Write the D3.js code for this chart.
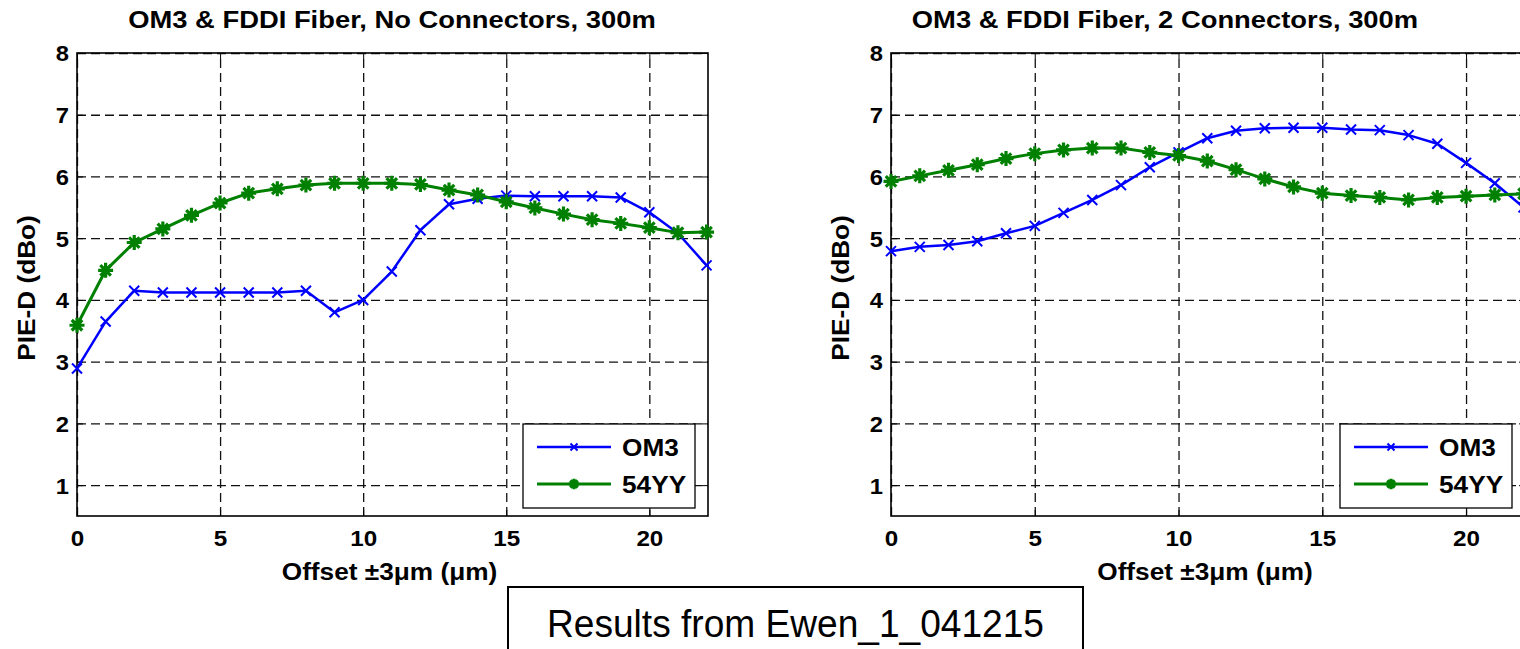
<!DOCTYPE html>
<html>
<head>
<meta charset="utf-8">
<script src="https://cdn.jsdelivr.net/npm/d3@7"></script>
<style>
    body { margin: 0; background: #fff; }
    svg { display: block; font-family: "Liberation Sans", Arial, sans-serif; }
    .grid line { stroke: #111; stroke-width: 1.3; stroke-dasharray: 9,5; }
    .grid path { display: none; }
    .ticks path { display: none; }
    .ticks line { stroke: #000; stroke-width: 1; }
    .tick text { font-weight: bold; fill: #000; }
</style>
</head>
<body>
<div class="chart-container"></div>
<script>
// Data
const offsets = [0, 1, 2, 3, 4, 5, 6, 7, 8, 9, 10, 11, 12, 13, 14, 15, 16, 17, 18, 19, 20, 21, 22];

const om3NoConn = [2.89, 3.65, 4.15, 4.12, 4.12, 4.12, 4.12, 4.12, 4.15, 3.80, 4.00, 4.46, 5.13,
    5.55, 5.64, 5.69, 5.68, 5.68, 5.68, 5.66, 5.42, 5.08, 4.56];
const yy54NoConn = [3.59, 4.48, 4.93, 5.15, 5.37, 5.57, 5.73, 5.80, 5.86, 5.89, 5.89, 5.89, 5.87,
    5.78, 5.70, 5.59, 5.49, 5.39, 5.30, 5.24, 5.17, 5.09, 5.10];

const om3TwoConn = [4.79, 4.86, 4.89, 4.95, 5.08, 5.20, 5.41, 5.62, 5.86, 6.15, 6.39, 6.62, 6.74,
    6.78, 6.79, 6.79, 6.76, 6.75, 6.67, 6.53, 6.22, 5.89, 5.50];
const yy54TwoConn = [5.92, 6.01, 6.10, 6.19, 6.29, 6.37, 6.43, 6.46, 6.46, 6.39, 6.34, 6.25, 6.11,
    5.96, 5.83, 5.73, 5.69, 5.66, 5.62, 5.66, 5.68, 5.70, 5.72];

const seriesNames = ['OM3', '54YY'];
const xTicks = [0, 5, 10, 15, 20];
const yTicks = [1, 2, 3, 4, 5, 6, 7, 8];
const xDomain = [0, 22.05];
const yDomain = [0.5, 8];

const titles = ['OM3 & FDDI Fiber, No Connectors, 300m', 'OM3 & FDDI Fiber, 2 Connectors, 300m'];
const xLabel = 'Offset \u00b13\u03bcm (\u03bcm)';
const yLabel = 'PIE-D (dBo)';
const caption = 'Results from Ewen_1_041215';

// Text in the picture is a bit wider than Liberation Sans
const STRETCH = 1.14;

function stretch(sel, k) {
    sel.each(function() {
        const len = this.getComputedTextLength();
        d3.select(this)
            .attr('textLength', len * k)
            .attr('lengthAdjust', 'spacingAndGlyphs');
    });
}

// Markers
function drawX(g, x, y, r, color, w) {
    g.append('path')
        .attr('d', `M${x - r},${y - r}L${x + r},${y + r}M${x - r},${y + r}L${x + r},${y - r}`)
        .attr('stroke', color)
        .attr('stroke-width', w);
}

function drawStar(g, x, y, r, color, w) {
    const d = r * 0.7;
    g.append('path')
        .attr('d', `M${x - r},${y}L${x + r},${y}M${x},${y - r}L${x},${y + r}` +
            `M${x - d},${y - d}L${x + d},${y + d}M${x - d},${y + d}L${x + d},${y - d}`)
        .attr('stroke', color)
        .attr('stroke-width', w);
}

const styles = [
    {color: '#0000ff', width: 2.5, marker: drawX, r: 5, mw: 2},
    {color: '#008000', width: 3, marker: drawStar, r: 7.5, mw: 3.2}
];

function drawPanel(svg, cfg) {
    const top = 53, bottom = 516;

    const xScale = d3.scaleLinear()
        .domain(xDomain)
        .range([cfg.left, cfg.right]);

    const yScale = d3.scaleLinear()
        .domain(yDomain)
        .range([bottom, top]);

    const width = cfg.right - cfg.left;
    const height = bottom - top;

    const g = svg.append('g');

    // Grid
    g.append('g')
        .attr('class', 'grid')
        .attr('transform', `translate(${cfg.left},0)`)
        .call(d3.axisLeft(yScale).tickValues(yTicks).tickSize(-width).tickFormat(''));

    g.append('g')
        .attr('class', 'grid')
        .attr('transform', `translate(0,${bottom})`)
        .call(d3.axisBottom(xScale).tickValues(xTicks).tickFormat('').tickSizeInner(-height));

    // Tick labels
    const yAxis = g.append('g')
        .attr('class', 'ticks')
        .attr('transform', `translate(${cfg.left},0)`)
        .call(d3.axisLeft(yScale).tickValues(yTicks).tickSizeInner(-6).tickSizeOuter(0).tickPadding(8));
    yAxis.selectAll('text').style('font-size', '22px').attr('dy', '0.36em');
    stretch(yAxis.selectAll('text'), 1.08);

    const xAxis = g.append('g')
        .attr('class', 'ticks')
        .attr('transform', `translate(0,${bottom})`)
        .call(d3.axisBottom(xScale).tickValues(xTicks).tickSizeInner(-6).tickSizeOuter(0).tickPadding(14));
    xAxis.selectAll('text').style('font-size', '22px');
    stretch(xAxis.selectAll('text'), 1.1);

    // Inner ticks on top and right
    g.append('g')
        .attr('class', 'ticks')
        .attr('transform', `translate(0,${top})`)
        .call(d3.axisTop(xScale).tickValues(xTicks).tickSizeInner(-6).tickSizeOuter(0).tickFormat(''));

    g.append('g')
        .attr('class', 'ticks')
        .attr('transform', `translate(${cfg.right},0)`)
        .call(d3.axisRight(yScale).tickValues(yTicks).tickSizeInner(-6).tickSizeOuter(0).tickFormat(''));

    // Box
    g.append('rect')
        .attr('x', cfg.left)
        .attr('y', top)
        .attr('width', width)
        .attr('height', height)
        .attr('fill', 'none')
        .attr('stroke', '#000')
        .attr('stroke-width', 1.6);

    // Lines and markers
    const line = d3.line()
        .x((d, i) => xScale(offsets[i]))
        .y(d => yScale(d));

    cfg.series.forEach((values, s) => {
        const st = styles[s];
        g.append('path')
            .datum(values)
            .attr('d', line)
            .attr('fill', 'none')
            .attr('stroke', st.color)
            .attr('stroke-width', st.width)
            .attr('stroke-linejoin', 'round');

        const mk = g.append('g');
        values.forEach((v, i) => st.marker(mk, xScale(offsets[i]), yScale(v), st.r, st.color, st.mw));
    });

    // Title
    const title = g.append('text')
        .attr('x', cfg.titleX)
        .attr('y', 28)
        .attr('text-anchor', 'middle')
        .style('font-size', '24px')
        .style('font-weight', 'bold')
        .text(cfg.title);
    stretch(title, STRETCH);

    // Axis labels
    const xl = g.append('text')
        .attr('x', cfg.left + width / 2 - 3)
        .attr('y', 580)
        .attr('text-anchor', 'middle')
        .style('font-size', '23px')
        .style('font-weight', 'bold')
        .text(xLabel);
    stretch(xl, STRETCH);

    const yl = g.append('text')
        .attr('transform', `translate(${cfg.left - 42},288) rotate(-90)`)
        .attr('text-anchor', 'middle')
        .style('font-size', '23px')
        .style('font-weight', 'bold')
        .text(yLabel);
    stretch(yl, STRETCH);

    // Legend
    const lg = g.append('g')
        .attr('transform', `translate(${cfg.right - 185},424)`);

    lg.append('rect')
        .attr('width', 172)
        .attr('height', 84)
        .attr('fill', '#fff')
        .attr('stroke', '#000')
        .attr('stroke-width', 1.3);

    seriesNames.forEach((name, s) => {
        const st = styles[s];
        const ly = 23 + s * 37;
        lg.append('line')
            .attr('x1', 14)
            .attr('x2', 88)
            .attr('y1', ly)
            .attr('y2', ly)
            .attr('stroke', st.color)
            .attr('stroke-width', st.width);
        st.marker(lg, 51, ly, st.r * 0.7, st.color, st.mw);
        const t = lg.append('text')
            .attr('x', 99)
            .attr('y', ly + 8.5)
            .style('font-size', '23px')
            .style('font-weight', 'bold')
            .text(name);
        stretch(t, STRETCH);
    });
}

// Draw base
const svg = d3.select('.chart-container')
    .append('svg')
    .attr('width', 1520)
    .attr('height', 649);

drawPanel(svg, {
    left: 77, right: 708, titleX: 392,
    title: titles[0],
    series: [om3NoConn, yy54NoConn]
});

drawPanel(svg, {
    left: 891, right: 1525, titleX: 1165,
    title: titles[1],
    series: [om3TwoConn, yy54TwoConn]
});

// Caption box
svg.append('rect')
    .attr('x', 508)
    .attr('y', 587)
    .attr('width', 575)
    .attr('height', 90)
    .attr('fill', '#fff')
    .attr('stroke', '#000')
    .attr('stroke-width', 2);

svg.append('text')
    .attr('x', 795.5)
    .attr('y', 637)
    .attr('text-anchor', 'middle')
    .attr('textLength', 497)
    .attr('lengthAdjust', 'spacingAndGlyphs')
    .style('font-size', '38px')
    .text(caption);
</script>
</body>
</html>
